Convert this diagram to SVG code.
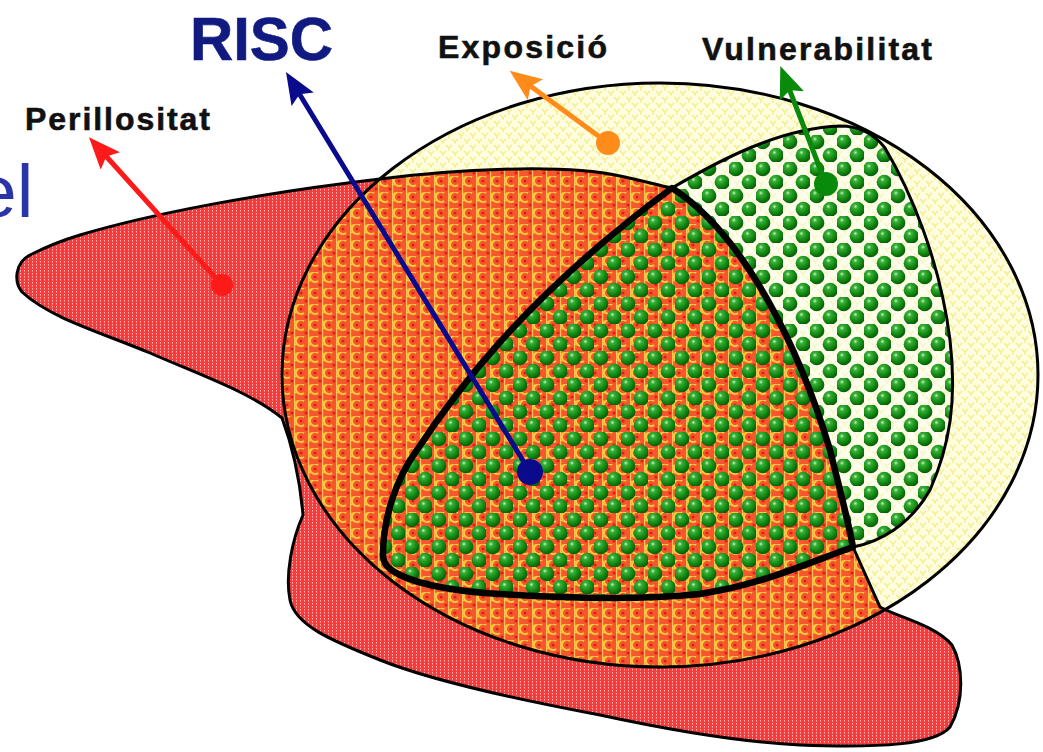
<svg xmlns="http://www.w3.org/2000/svg" width="1043" height="752" viewBox="0 0 1043 752">
<style>
.lbl{font-family:"Liberation Sans",Arial,sans-serif;font-weight:bold;fill:#111;stroke:#111;stroke-width:0.6}
.outline{fill:none;stroke:#000;stroke-width:3;stroke-linejoin:round}
.thick{fill:none;stroke:#000;stroke-width:6.5;stroke-linejoin:round;stroke-linecap:round}
.conn{fill:none;stroke-width:5;stroke-linecap:round}
</style>
<defs>
<pattern id="pRed" width="4" height="3" patternUnits="userSpaceOnUse">
<rect width="4" height="3" fill="#f43c3c"/>
<rect x="0" y="0" width="1" height="1.5" fill="#ffb8b8"/>
</pattern>
<pattern id="pYel" width="12" height="12" patternUnits="userSpaceOnUse">
<rect width="12" height="12" fill="#fefde0"/>
<path d="M2,1 L5,4 L8,1 M5,4 V7 M8,7 L11,10 L14,7 M-4,7 L-1,10 L2,7 M11,10 V13 M-1,10 V13" stroke="#f3ee86" stroke-width="1.4" fill="none"/>
</pattern>
<pattern id="pOra" width="14" height="16" patternUnits="userSpaceOnUse">
<rect width="14" height="16" fill="#f5582c"/>
<path d="M10,1 A5,5 0 1 0 10,9" stroke="#ffcc40" stroke-width="2" fill="none"/>
<path d="M3,9 A5,5 0 1 0 3,17 M3,-7 A5,5 0 1 0 3,1" stroke="#ffb838" stroke-width="1.7" fill="none"/>
<circle cx="7" cy="5" r="1.6" fill="#e51c1c"/>
<circle cx="12" cy="13" r="1.6" fill="#e51c1c"/>
<rect x="0" y="0" width="1.2" height="16" fill="#ffd860" opacity="0.8"/>
</pattern>
<radialGradient id="gBall" cx="38%" cy="32%" r="65%">
<stop offset="0" stop-color="#c8f5c0"/>
<stop offset="0.22" stop-color="#38b038"/>
<stop offset="0.7" stop-color="#108510"/>
<stop offset="1" stop-color="#086008"/>
</radialGradient>
<pattern id="pDots" width="27" height="27" patternUnits="userSpaceOnUse">
<circle cx="6.75" cy="6.75" r="7.6" fill="url(#gBall)"/>
<circle cx="20.25" cy="20.25" r="7.6" fill="url(#gBall)"/>
</pattern>
<clipPath id="cEll">
<ellipse cx="660" cy="375" rx="378" ry="292"/>
</clipPath>
<marker id="mRed" markerUnits="userSpaceOnUse" markerWidth="32" markerHeight="26" viewBox="0 0 32 26" refX="8" refY="13" orient="auto"><path d="M0,0 L32,13 L0,26 L6,13 Z" fill="#ff1a1a"/></marker>
<marker id="mNavy" markerUnits="userSpaceOnUse" markerWidth="32" markerHeight="26" viewBox="0 0 32 26" refX="8" refY="13" orient="auto"><path d="M0,0 L32,13 L0,26 L6,13 Z" fill="#0a0a8c"/></marker>
<marker id="mOra" markerUnits="userSpaceOnUse" markerWidth="32" markerHeight="26" viewBox="0 0 32 26" refX="8" refY="13" orient="auto"><path d="M0,0 L32,13 L0,26 L6,13 Z" fill="#ff8c1a"/></marker>
<marker id="mGrn" markerUnits="userSpaceOnUse" markerWidth="32" markerHeight="26" viewBox="0 0 32 26" refX="8" refY="13" orient="auto"><path d="M0,0 L32,13 L0,26 L6,13 Z" fill="#0a8a0a"/></marker>
<path id="redShape" d="M22,292 C14,282 14,262 32,254 C48,246 60,241 80,235 C150,214 260,193 380,179 C450,170 560,163 620,176 C645,181 660,186 672,188 C745,235 800,350 830,450 C840,490 848,520 853,547 L880,607 C900,618 935,625 952,645 C963,665 965,700 950,727 C935,745 880,748 800,745 C740,742 660,728 600,715 C520,700 430,680 380,660 C330,640 295,625 290,600 C285,575 292,540 303,515 C300,480 292,445 282,418 C250,392 200,375 150,353 C100,332 50,318 22,292 Z"/>
<path id="greenShape" d="M672,188 C720,160 780,128 840,126 C860,126 875,135 885,148 C910,190 940,260 950,340 C957,400 950,445 930,490 C910,525 880,542 853,547 C800,566 760,585 700,594 C640,600 560,598 500,594 C460,592 420,585 400,575 C386,568 383,562 383,555 C383,520 395,480 417,450 C450,400 520,300 672,188 Z"/>
</defs>

<rect width="1043" height="752" fill="#ffffff"/>

<g id="perillositat-region">
<use href="#redShape" fill="url(#pRed)"/>
</g>

<g id="exposicio-region">
<ellipse cx="660" cy="375" rx="378" ry="292" fill="url(#pYel)"/>
<use href="#greenShape" fill="#ffffff" opacity="0.45"/>
<use href="#redShape" fill="url(#pOra)" clip-path="url(#cEll)"/>
<ellipse class="outline" cx="660" cy="375" rx="378" ry="292"/>
<use href="#redShape" class="outline"/>
</g>

<g id="vulnerabilitat-region">
<use href="#greenShape" fill="url(#pDots)"/>
<path class="outline" d="M672,188 C720,160 780,128 840,126 C860,126 875,135 885,148 C910,190 940,260 950,340 C957,400 950,445 930,490 C910,525 880,542 853,547"/>
</g>

<g id="risc-region">
<path class="thick" d="M672,188 C745,235 800,350 830,450 C840,490 848,520 853,547 C800,566 760,585 700,594 C640,600 560,598 500,594 C460,592 420,585 400,575 C386,568 383,562 383,555 C383,520 395,480 417,450 C450,400 520,300 672,188 Z"/>
</g>

<g id="connectors">
<line class="conn" stroke="#ff1a1a" x1="222" y1="285" x2="105" y2="155" marker-end="url(#mRed)"/>
<circle cx="222" cy="285" r="11" fill="#ff1a1a"/>
<line class="conn" stroke="#0a0a8c" x1="530" y1="472" x2="298.5" y2="92.5" marker-end="url(#mNavy)"/>
<circle cx="530" cy="472" r="13" fill="#0a0a8c"/>
<line class="conn" stroke="#ff8c1a" x1="608" y1="143" x2="529" y2="85" marker-end="url(#mOra)"/>
<circle cx="608" cy="143" r="12" fill="#ff8c1a"/>
<line class="conn" stroke="#0a8a0a" x1="826" y1="184" x2="789" y2="88.5" marker-end="url(#mGrn)"/>
<circle cx="826" cy="184" r="12" fill="#0a8a0a"/>
</g>

<g id="labels">
<text x="-25" y="217" font-family="Liberation Sans, Arial, sans-serif" font-size="75" fill="#2a35a8">el</text>
<text class="lbl" x="190" y="60" font-size="61" style="fill:#101a80;stroke:#101a80" textLength="143" lengthAdjust="spacingAndGlyphs">RISC</text>
<text class="lbl" x="25" y="130" font-size="32" textLength="185" lengthAdjust="spacing">Perillositat</text>
<text class="lbl" x="438" y="58" font-size="32" textLength="169" lengthAdjust="spacing">Exposició</text>
<text class="lbl" x="702" y="60" font-size="32" textLength="230" lengthAdjust="spacing">Vulnerabilitat</text>
</g>
</svg>
